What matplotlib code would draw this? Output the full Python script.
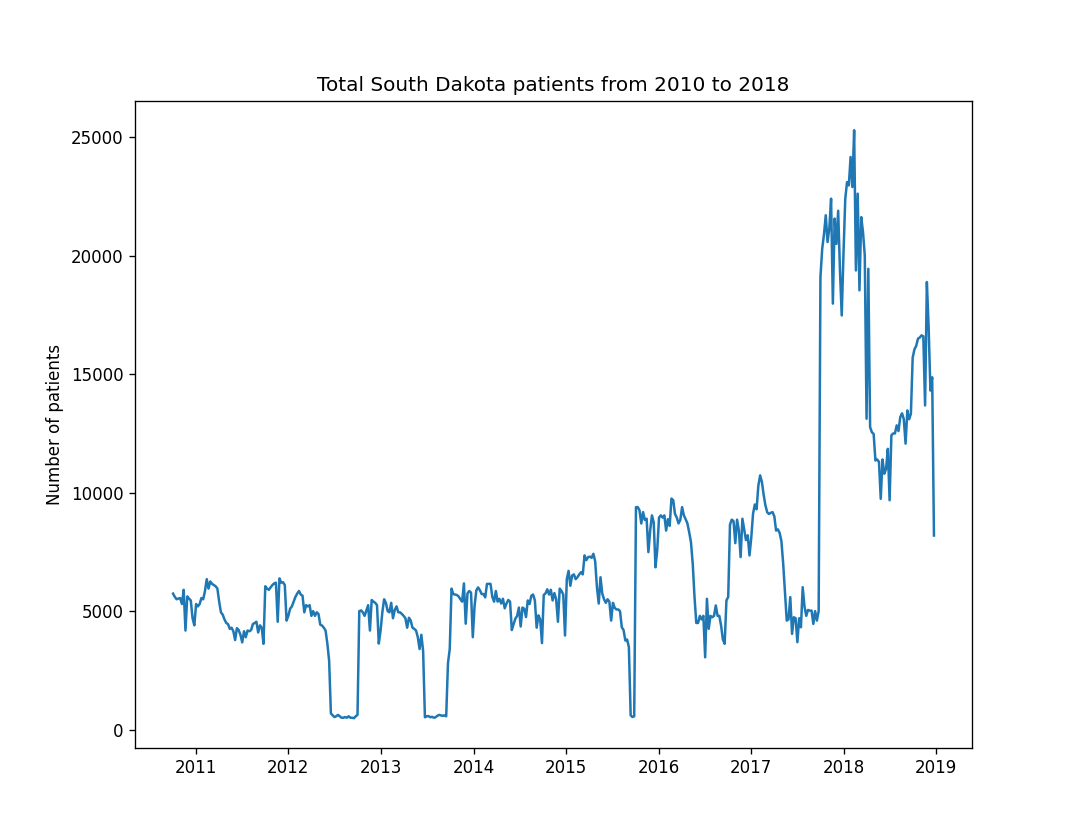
import matplotlib
matplotlib.use("Agg")
import matplotlib.pyplot as plt
import numpy as np
import pandas as pd

start_date = "2010-10-03"

vals_2010 = [5740, 5600, 5500, 5530, 5550, 5300, 5900, 4180, 5620, 5530, 5450, 4700, 4400]
vals_2011 = [5300, 5200, 5300, 5550, 5500, 5850, 6350, 5950, 6250, 6150, 6100, 6050, 5950,
             5400, 4950, 4850, 4650, 4500, 4450, 4250, 4300, 4150, 3780, 4280, 4200, 4000,
             3680, 4150, 3900, 4180, 4150, 4200, 4450, 4500, 4550, 4100, 4400, 4300, 3620,
             6050, 5950, 5900, 6000, 6100, 6170, 6200, 4550, 6380, 6200, 6220, 6100, 4600]
vals_2012 = [4800, 5100, 5200, 5400, 5600, 5740, 5850, 5700, 5650, 4950, 5250, 5200, 5250,
             4800, 5000, 4800, 4950, 4880, 4430, 4390, 4300, 4180, 3630, 2910, 680, 600,
             530, 560, 620, 560, 500, 500, 530, 500, 560, 500, 500, 480, 560, 620,
             5000, 5030, 4950, 4800, 5030, 5250, 4180, 5470, 5400, 5350, 5250, 3630]
vals_2013 = [4180, 4950, 5500, 5350, 5000, 4950, 5350, 4700, 5050, 5200, 4950, 4950, 4880,
             4800, 4700, 4300, 4720, 4600, 4300, 4250, 4180, 3900, 3400, 4000, 3300, 520,
             560, 570, 520, 540, 500, 520, 580, 620, 600, 580, 600, 560, 2800, 3400,
             5950, 5720, 5700, 5680, 5620, 5500, 5400, 6170, 4470, 5750, 5850, 5780]
vals_2014 = [3900, 5220, 5880, 6000, 5880, 5720, 5720, 5580, 6150, 6150, 6150, 5600, 5400,
             5850, 5400, 5520, 5320, 5520, 5120, 5320, 5470, 5400, 4200, 4450, 4680, 4800,
             5150, 4350, 5150, 5100, 4750, 5450, 5300, 5650, 5700, 5450, 4300, 4820, 4650,
             3650, 5680, 5750, 5920, 5700, 5900, 5450, 5760, 5500, 4550, 5950, 5850, 5700]
vals_2015 = [3970, 6350, 6700, 6070, 6500, 6550, 6350, 6430, 6550, 6640, 6550, 7350, 7150,
             7280, 7300, 7250, 7420, 7100, 6000, 5320, 6430, 5740, 5500, 5350, 5500, 5400,
             4600, 5350, 5140, 5070, 5070, 5000, 4320, 4200, 3760, 3800, 3480, 600, 530,
             560, 9390, 9390, 9250, 8700, 9180, 8850, 8900, 7490, 8400, 9040, 8750, 6850, 7600]
vals_2016 = [8950, 9040, 8950, 9040, 8400, 8880, 8600, 9750, 9680, 9100, 8950, 8700, 8850,
             9390, 9040, 8880, 8700, 8330, 7910, 7000, 5600, 4500, 4500, 4800, 4650, 4800,
             3050, 5520, 4250, 4800, 4740, 4800, 5240, 4800, 4800, 4380, 3800, 3620, 5450,
             5600, 8650, 8860, 8800, 7870, 8860, 8400, 7280, 8900, 8450, 8000, 8200, 7350]
vals_2017 = [8100, 9110, 9500, 9300, 10300, 10730, 10450, 9900, 9460, 9170, 9100, 9150, 9180,
             9000, 8400, 8450, 8300, 7950, 7000, 5800, 4600, 4650, 5590, 4040, 4740, 4700,
             3690, 4700, 4320, 6010, 5200, 4800, 5050, 5020, 5020, 4460, 5000, 4600, 5000,
             19100, 20300, 20900, 21710, 20580, 21150, 22410, 17980, 21570, 20500, 21900,
             19400, 17480]
vals_2018 = [20100, 22410, 23110, 22970, 24170, 22900, 25300, 19380, 22620, 18540, 21630,
             21000, 20000, 13120, 19450, 12770, 12550, 12480, 11360, 11400, 11300, 9740,
             11400, 10800, 11000, 11850, 9680, 12420, 12500, 12500, 12840, 12600, 13190,
             13350, 13100, 12070, 13470, 13100, 13330, 15700, 16050, 16200, 16500, 16550,
             16640, 16600, 13680, 18890, 17000, 14310, 14870, 8190]

values = (vals_2010 + vals_2011 + vals_2012 + vals_2013 + vals_2014 +
          vals_2015 + vals_2016 + vals_2017 + vals_2018)
dates = pd.date_range(start_date, periods=len(values), freq="7D")

fig, ax = plt.subplots(figsize=(9, 7), dpi=120)
ax.plot(dates, values)
ax.set_title("Total South Dakota patients from 2010 to 2018")
ax.set_ylabel("Number of patients")
fig.savefig("out.png", dpi=120)
